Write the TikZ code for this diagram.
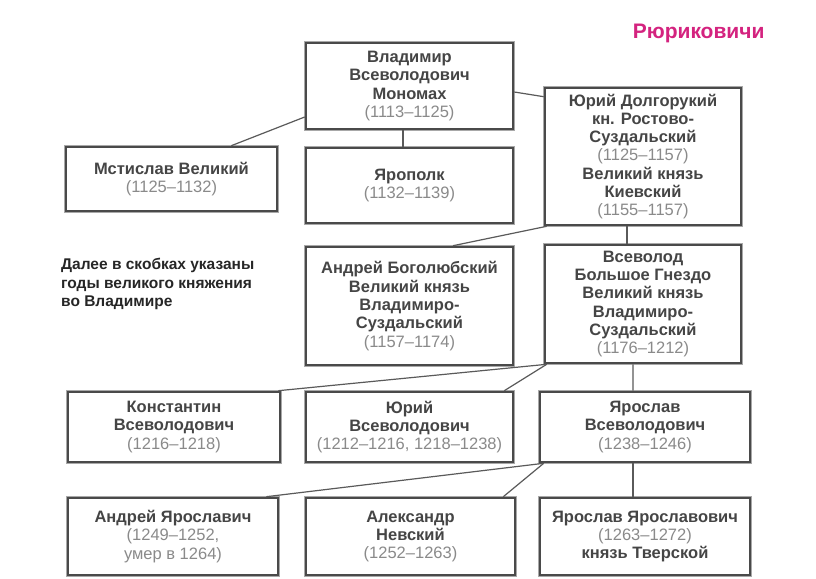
\documentclass[tikz,border=0pt]{standalone}
\usepackage{fontspec}
\setmainfont{Liberation Sans}
\definecolor{boxline}{HTML}{4A4A4A}
\definecolor{halo}{HTML}{A8A8A8}
\definecolor{nametxt}{HTML}{454545}
\definecolor{datetxt}{HTML}{8A8A8A}
\definecolor{conn}{HTML}{5A5A5A}
\definecolor{titlemag}{HTML}{D4237F}
\newcommand\pdate[1]{{\mdseries\color{datetxt}#1}}
\tikzset{
  person/.style={draw=boxline, line width=2.6bp, fill=white,
    preaction={draw=halo, line width=4.2bp},
    inner sep=0pt, align=center, font=\fontsize{16.5bp}{18.3bp}\selectfont\bfseries,
    text=nametxt},
  link/.style={draw=conn, line width=1.2bp},
}
\begin{document}
\begin{tikzpicture}[x=1bp,y=-1bp]
\useasboundingbox[fill=white] (0,0) rectangle (816,579);

\node[font=\fontsize{21bp}{24bp}\selectfont\bfseries, text=titlemag, anchor=east] (title) at (768,33) {Рюриковичи};

\node[person, minimum width=207bp, minimum height=86bp] (V) at (409.5,86)
  {Владимир\\Всеволодович\\Мономах\\\pdate{(1113–1125)}};
\node[person, minimum width=196bp, minimum height=137bp] (YD) at (643,156.5)
  {Юрий Долгорукий\\кн. Ростово-\\Суздальский\\\pdate{(1125–1157)}\\Великий князь\\Киевский\\\pdate{(1155–1157)}};
\node[person, minimum width=211bp, minimum height=64bp] (M) at (171.5,179)
  {Мстислав Великий\\\pdate{(1125–1132)}};
\node[person, minimum width=207bp, minimum height=75bp] (Yp) at (409.5,185.5)
  {Ярополк\\\pdate{(1132–1139)}};
\node[person, minimum width=207bp, minimum height=118bp] (AB) at (409.5,306)
  {Андрей Боголюбский\\Великий князь\\Владимиро-\\Суздальский\\\pdate{(1157–1174)}};
\node[person, minimum width=196bp, minimum height=118bp] (Vs) at (643,304)
  {Всеволод\\Большое Гнездо\\Великий князь\\Владимиро-\\Суздальский\\\pdate{(1176–1212)}};

\node[anchor=west, align=left, font=\fontsize{15.5bp}{18.5bp}\selectfont\bfseries, text=black!85, inner sep=0pt] (note) at (61,284)
  {Далее в скобках указаны\\годы великого княжения\\во Владимире};

\node[person, minimum width=212bp, minimum height=70bp] (K) at (174,427)
  {Константин\\Всеволодович\\\pdate{(1216–1218)}};
\node[person, minimum width=207bp, minimum height=70bp] (YuV) at (409.5,427)
  {Юрий\\Всеволодович\\\pdate{(1212–1216, 1218–1238)}};
\node[person, minimum width=210bp, minimum height=70bp] (YaV) at (645,427)
  {Ярослав\\Всеволодович\\\pdate{(1238–1246)}};

\node[person, minimum width=210bp, minimum height=77bp] (AY) at (173,536.5)
  {Андрей Ярославич\\\pdate{(1249–1252,}\\\pdate{умер в 1264)}};
\node[person, minimum width=209bp, minimum height=77bp] (Al) at (410.5,536.5)
  {Александр\\Невский\\\pdate{(1252–1263)}};
\node[person, minimum width=210bp, minimum height=77bp] (YY) at (645,536.5)
  {Ярослав Ярославович\\\pdate{(1263–1272)}\\князь Тверской};

\draw[link] ([yshift=-31bp]V.west) -- ([xshift=-47bp]M.north east);
\draw[link] ([xshift=-6.5bp]V.south) -- ([xshift=-6.5bp]Yp.north);
\draw[link] ([yshift=-6bp]V.east) -- ([yshift=-10bp]YD.north west);
\draw[link] ([xshift=3bp]YD.south west) -- ([xshift=43.5bp]AB.north);
\draw[link] ([xshift=-16bp]YD.south) -- ([xshift=-16bp]Vs.north);
\draw[link] ([xshift=3bp]Vs.south west) -- ([xshift=-3bp]K.north east);
\draw[link] ([xshift=3bp]Vs.south west) -- ([xshift=-10bp]YuV.north east);
\draw[link] ([xshift=-10bp]Vs.south) -- ([xshift=-12bp]YaV.north);
\draw[link] ([xshift=5bp]YaV.south west) -- ([xshift=-13bp]AY.north east);
\draw[link] ([xshift=5bp]YaV.south west) -- ([xshift=-13bp]Al.north east);
\draw[link] ([xshift=-12bp]YaV.south) -- ([xshift=-12bp]YY.north);
\end{tikzpicture}
\end{document}
